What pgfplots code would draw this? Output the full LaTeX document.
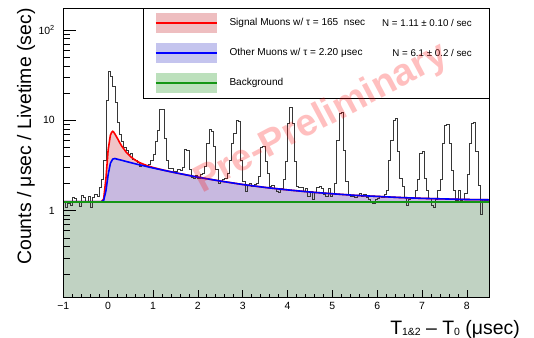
\documentclass[border=0pt]{standalone}
\usepackage{pgfplots}
\usepackage{pgfplotstable}
\pgfplotsset{compat=1.18}
\usepackage{fontspec}
\setmainfont{Liberation Sans}
\definecolor{fillpink}{RGB}{240,196,200}
\definecolor{filllav}{RGB}{200,185,224}
\definecolor{fillgrn}{RGB}{192,210,194}
\definecolor{legpink}{RGB}{238,190,192}
\definecolor{legblue}{RGB}{196,196,238}
\definecolor{leggrn}{RGB}{188,224,188}
\definecolor{rootgreen}{RGB}{20,150,20}
\definecolor{histgray}{RGB}{55,55,55}
\newcommand\sub[1]{\raisebox{-1bp}{\fontsize{10.5}{11}\selectfont #1}}

\pgfplotstableread{
x y
-1.00 1.25
-0.95 1.10
-0.90 1.20
-0.85 1.15
-0.80 1.42
-0.75 1.38
-0.70 1.28
-0.65 1.12
-0.60 1.48
-0.55 1.40
-0.50 1.25
-0.45 1.46
-0.40 1.10
-0.35 1.42
-0.30 1.52
-0.25 1.45
-0.20 1.80
-0.15 2.2
-0.10 3.6
-0.05 16.8
0.00 35
0.05 30.5
0.10 24
0.15 16
0.20 9.5
0.25 7.0
0.30 5.8
0.35 5.0
0.40 4.6
0.45 4.2
0.50 4.35
0.55 3.7
0.60 3.6
0.65 3.4
0.70 3.07
0.75 3.15
0.80 3.2
0.85 3.1
0.90 3.3
0.95 3.6
1.00 4.2
1.05 5.8
1.10 7.8
1.15 13.2
1.20 13.4
1.25 6.3
1.30 3.6
1.35 2.95
1.40 2.95
1.45 2.7
1.50 2.7
1.55 2.85
1.60 2.8
1.65 3.0
1.70 4.8
1.75 4.7
1.80 2.9
1.85 2.35
1.90 2.3
1.95 2.45
2.00 2.3
2.05 2.5
2.10 2.6
2.15 3.1
2.20 5.6
2.25 8.0
2.30 7.6
2.35 5.2
2.40 2.9
2.45 2.0
2.50 2.1
2.55 2.2
2.60 2.3
2.65 2.6
2.70 3.6
2.75 5.6
2.80 7.2
2.85 10.1
2.90 9.8
2.95 3.6
3.00 2.1
3.05 1.65
3.10 1.9
3.15 2.0
3.20 1.85
3.25 1.95
3.30 2.0
3.35 2.4
3.40 5.0
3.45 5.1
3.50 3.5
3.55 2.6
3.60 1.85
3.65 1.9
3.70 1.75
3.75 1.65
3.80 1.6
3.85 1.75
3.90 2.2
3.95 3.5
4.00 9.3
4.05 14.1
4.10 9.3
4.15 3.5
4.20 1.85
4.25 1.8
4.30 1.8
4.35 1.65
4.40 1.75
4.45 1.45
4.50 1.65
4.55 1.32
4.60 1.6
4.65 1.8
4.70 1.85
4.75 1.75
4.80 1.5
4.85 1.45
4.90 1.75
4.95 1.45
5.00 1.55
5.05 2.0
5.10 6.0
5.15 12.0
5.20 12.4
5.25 4.7
5.30 2.1
5.35 1.5
5.40 1.45
5.45 1.45
5.50 1.42
5.55 1.48
5.60 1.55
5.65 1.45
5.70 1.5
5.75 1.4
5.80 1.35
5.85 1.25
5.90 1.22
5.95 1.35
6.00 1.38
6.05 1.45
6.10 1.42
6.15 1.5
6.20 1.7
6.25 3.6
6.30 6.0
6.35 10.1
6.40 10.4
6.45 4.5
6.50 2.3
6.55 1.84
6.60 1.4
6.65 1.16
6.70 1.35
6.75 1.4
6.80 1.42
6.85 1.7
6.90 2.2
6.95 4.3
7.00 4.5
7.05 2.3
7.10 1.7
7.15 1.38
7.20 1.16
7.25 1.1
7.30 1.35
7.35 1.7
7.40 2.2
7.45 5.6
7.50 8.9
7.55 9.1
7.60 5.6
7.65 2.8
7.70 1.7
7.75 1.3
7.80 1.7
7.85 1.3
7.90 1.32
7.95 1.55
8.00 2.5
8.05 5.6
8.10 9.3
8.15 9.5
8.20 4.5
8.25 1.9
8.30 0.9
8.35 1.35
8.40 1.3
8.45 1.32
8.50 1.32
}\histtab

\pgfplotstableread{
x y
-1.00 1.26
-0.15 1.26
-0.10 1.35
-0.05 2.25
0.00 4.7
0.05 6.85
0.08 7.4
0.10 7.57
0.12 7.46
0.15 7.08
0.20 6.42
0.25 5.77
0.30 5.22
0.40 4.47
0.50 3.97
0.60 3.64
0.70 3.41
0.80 3.25
0.90 3.12
1.00 3.01
1.20 2.84
1.50 2.63
2.00 2.35
2.50 2.13
3.00 1.95
3.50 1.81
4.00 1.70
4.50 1.61
5.00 1.54
5.50 1.48
6.00 1.44
6.50 1.40
7.00 1.37
7.50 1.35
8.00 1.33
8.50 1.32
}\redtab

\pgfplotstableread{
x y
-1.00 1.26
-0.15 1.26
-0.10 1.30
-0.05 1.65
0.00 2.5
0.05 3.35
0.10 3.72
0.15 3.78
0.20 3.72
0.25 3.67
0.30 3.62
0.40 3.51
0.50 3.41
0.60 3.31
0.70 3.22
0.80 3.14
0.90 3.05
1.00 2.97
1.20 2.83
1.50 2.63
2.00 2.35
2.50 2.13
3.00 1.95
3.50 1.81
4.00 1.70
4.50 1.61
5.00 1.54
5.50 1.48
6.00 1.44
6.50 1.40
7.00 1.37
7.50 1.35
8.00 1.33
8.50 1.32
}\bluetab

\begin{document}
\begin{tikzpicture}
\begin{axis}[
  ymode=log, log origin y=infty,
  width=426bp, height=289bp, scale only axis,
  xmin=-1, xmax=8.5, ymin=0.11, ymax=174,
  axis on top,
  xtick={-1,0,1,2,3,4,5,6,7,8},
  xticklabels={−1,0,1,2,3,4,5,6,7,8},
  minor x tick num=4,
  ytick={1,10,100},
  yticklabels={1,10,10\textsuperscript{2}},
  minor ytick={0.2,0.3,0.4,0.5,0.6,0.7,0.8,0.9,2,3,4,5,6,7,8,9,20,30,40,50,60,70,80,90},
  xtick pos=bottom, ytick pos=left,
  tick align=inside,
  xtick style={/pgfplots/major tick length=7.5bp,/pgfplots/minor tick length=3.5bp,black,line width=0.6bp},
  ytick style={/pgfplots/major tick length=13bp,/pgfplots/minor tick length=6.5bp,black,line width=0.6bp},
  axis line style={line width=0.8bp},
  tick label style={font=\fontsize{10.5}{11}\selectfont},
  yticklabel style={xshift=-5bp},
  xticklabel style={yshift=-1bp},
]
\coordinate (O) at (rel axis cs:0,0);
\addplot[draw=none, fill=fillpink] table {\redtab} \closedcycle;
\addplot[draw=none, fill=filllav] table {\bluetab} \closedcycle;
\addplot[draw=none, fill=fillgrn] coordinates {(-1,1.26) (8.5,1.26)} \closedcycle;
\addplot[const plot, histgray, line width=0.7bp] table {\histtab};
\addplot[red, line width=1.6bp] table {\redtab};
\addplot[blue, line width=1.6bp] table {\bluetab};
\addplot[rootgreen, line width=1.8bp] coordinates {(-1,1.26) (8.5,1.26)};
\coordinate (WM) at (axis cs:4.76,10.4);
\end{axis}
% legend
\draw[fill=white, line width=0.6bp] ([shift={(80bp,198.6bp)}]O) rectangle ([shift={(426bp,289bp)}]O);
\fill[legpink] ([shift={(92.4bp,264bp)}]O) rectangle ([shift={(154bp,284bp)}]O);
\draw[red, line width=1.6bp] ([shift={(92.4bp,274bp)}]O) -- ([shift={(154bp,274bp)}]O);
\fill[legblue] ([shift={(92.4bp,234bp)}]O) rectangle ([shift={(154bp,254bp)}]O);
\draw[blue, line width=1.6bp] ([shift={(92.4bp,244bp)}]O) -- ([shift={(154bp,244bp)}]O);
\fill[leggrn] ([shift={(92.4bp,204bp)}]O) rectangle ([shift={(154bp,224bp)}]O);
\draw[rootgreen, line width=1.6bp] ([shift={(92.4bp,214bp)}]O) -- ([shift={(154bp,214bp)}]O);
\begin{scope}[every node/.style={font=\fontsize{10.1}{12}\selectfont, inner sep=0pt}]
\node[anchor=west] at ([shift={(166bp,274bp)}]O) {Signal Muons w/ τ = 165\ \ nsec};
\node[anchor=west] at ([shift={(166bp,244bp)}]O) {Other Muons w/ τ = 2.20 μsec};
\node[anchor=west] at ([shift={(166bp,214bp)}]O) {Background};
\end{scope}
\begin{scope}[every node/.style={font=\fontsize{9.8}{12}\selectfont, inner sep=0pt}]
\node[anchor=east] at ([shift={(408.7bp,274bp)}]O) {N = 1.11 ± 0.10 / sec};
\node[anchor=east] at ([shift={(408.7bp,244bp)}]O) {N = 6.1 ± 0.2 / sec};
\end{scope}
% watermark
\node[rotate=28, text=red, opacity=0.25, font=\bfseries\fontsize{38}{38}\selectfont] at (WM) {Pre-Preliminary};
% axis titles
\node[rotate=90, anchor=base east, inner sep=0pt, font=\fontsize{19.5}{20}\selectfont] at ([shift={(-32.3bp,289bp)}]O) {Counts / μsec / Livetime (sec)};
\node[anchor=base east, inner sep=0pt, font=\fontsize{19.5}{20}\selectfont] at ([shift={(456.7bp,-36.7bp)}]O) {T\sub{1\&2} – T\sub{0} (μsec)};
\pgfresetboundingbox
\path[use as bounding box] ([shift={(-63.3bp,-40.7bp)}]O) rectangle ([shift={(470.7bp,297.3bp)}]O);
\end{tikzpicture}
\end{document}
